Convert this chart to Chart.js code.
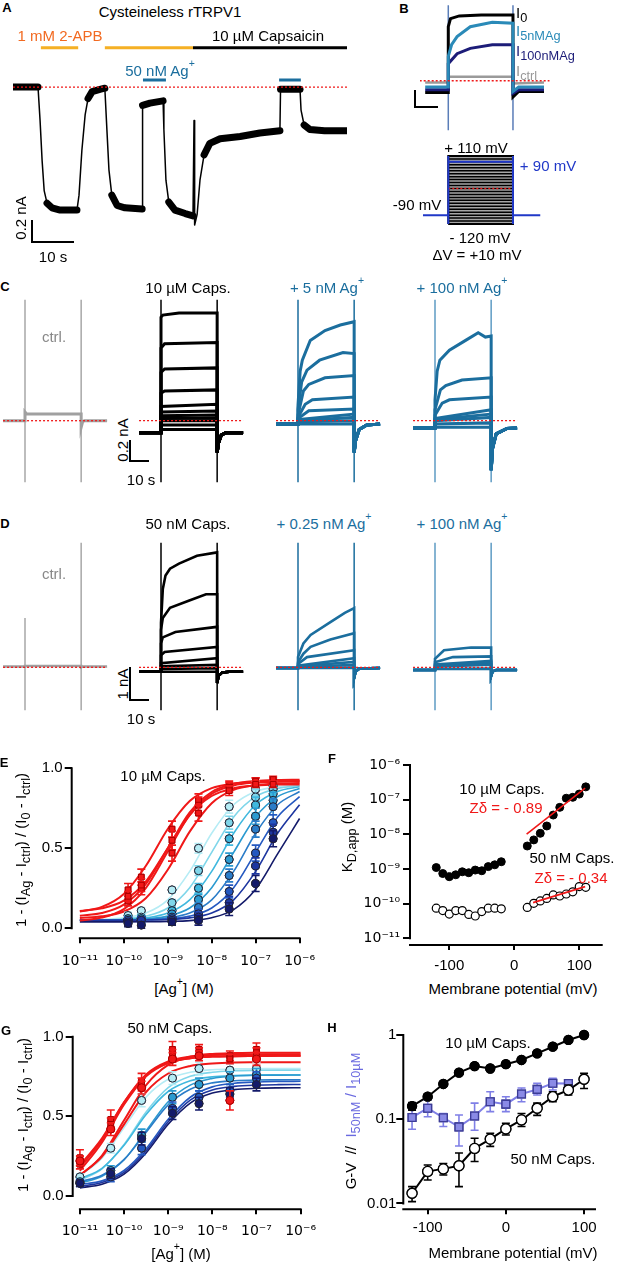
<!DOCTYPE html>
<html><head><meta charset="utf-8">
<script src="https://cdn.jsdelivr.net/npm/chart.js@4.4.1/dist/chart.umd.min.js"></script>
<style>
body{margin:0;background:#fff;}
#fig{position:relative;width:617px;height:1264px;overflow:hidden;font-family:"Liberation Sans",Arial,sans-serif;color:#000;}
canvas{position:absolute;}
.t{position:absolute;white-space:nowrap;transform:translate(-50%,-50%);font-size:15px;line-height:1;}
.tl{transform:translate(0,-50%);}
.lab{font-weight:bold;font-size:13px;}
.rot{transform:translate(-50%,-50%) rotate(-90deg);}
.sb{position:absolute;border-left:2px solid #000;border-bottom:2px solid #000;}
sub{font-size:0.85em;vertical-align:-0.35em;line-height:0;}
sup{font-size:0.7em;vertical-align:0.85em;line-height:0;}
</style></head><body><div id="fig"></div>
<script>
// ---------- A: whole-cell current, time (s) vs current (nA) ----------
const aTrace = [[0,0],[6.1,0],[6.6,-0.29],[7.1,-0.64],[7.6,-0.9],[8.3,-1.01],[9.5,-1.05],[11.5,-1.07],[15.6,-1.07],
  [16.1,-0.94],[16.8,-0.55],[17.6,-0.24],[18.3,-0.1],[19.3,-0.04],[21.2,-0.02],[22.4,-0.01],[22.9,-0.37],[23.4,-0.72],
  [24.1,-0.94],[25.4,-1.03],[27.3,-1.05],[31.5,-1.06],[31.6,-0.16],[33.4,-0.14],[36.6,-0.12],[36.8,-0.37],[37.3,-0.81],
  [38.0,-1.0],[39.5,-1.07],[42.0,-1.1],[43.9,-1.12],[44.15,-0.29],[44.3,-1.2],[44.9,-1.11],[45.6,-0.81],[46.6,-0.59],
  [48.0,-0.49],[50.5,-0.45],[55.4,-0.43],[60.2,-0.40],[65.1,-0.38],[65.25,-0.02],[70.0,-0.02],[70.25,-0.2],[71.0,-0.33],
  [72.4,-0.37],[76,-0.38],[81.2,-0.38]];
const aApb = [[6.8,15.9],[22.4,43.9]];
const aCaps = [[43.9,81.7]];
const aAg = [[31.7,37.3],[64.9,70.2]];

// ---------- B: example currents (s, nA) and voltage protocol (mV) ----------
const bI0 = [[-10.5,-0.13],[0,-0.13],[0,0.6],[1,0.69],[5,0.72],[15,0.73],[29.4,0.73],[29.4,-0.18],[32,-0.12],[43.5,-0.12]];
const bI5 = [[-10.5,-0.07],[0,-0.07],[0,0.27],[1.5,0.4],[4,0.49],[10,0.6],[20,0.65],[29.4,0.64],[29.4,-0.12],[32,-0.07],[43.5,-0.07]];
const bI100 = [[-10.5,-0.1],[0,-0.1],[0,0.19],[4,0.3],[10,0.36],[20,0.40],[29.4,0.40],[29.4,-0.14],[32,-0.1],[43.5,-0.1]];
const bIctrl = [[-10.5,-0.02],[0,-0.02],[0,0.044],[29.4,0.044],[29.4,-0.03],[43.5,-0.02]];
const stepMV = [-120,-110,-100,-90,-80,-70,-60,-50,-40,-30,-20,-10,0,10,20,30,40,50,60,70,80,90,100,110];
const holdMV = -90, shownMV = 90;

// ---------- C: 10 uM capsaicin family (step-phase points, s / nA) ----------
const cCtrl = {hold: 0, steps: [[[0,0.08],[1,0.06],[31.2,0.06]]], tail: [[31.2,-0.06],[32,-0.01],[33,0]]};
const cCaps = {hold: -0.11, tail: [[31.2,-0.29],[32,-0.2],[33.5,-0.13],[36,-0.11]], steps: [
  [[0,0.94],[1,0.96],[10,0.98],[31.2,0.98]], [[0,0.66],[2,0.70],[31.2,0.71]], [[0,0.44],[2,0.47],[31.2,0.48]],
  [[0,0.25],[2,0.27],[31.2,0.28]], [[0,0.13],[31.2,0.15]], [[0,0.08],[31.2,0.088]], [[0,0.045],[31.2,0.052]],
  [[0,0.02],[31.2,0.025]], [[0,0],[31.2,0]], [[0,-0.04],[31.2,-0.04]], [[0,-0.08],[31.2,-0.08]]]};
const cAg5 = {hold: -0.03, tail: [[31.2,-0.29],[32,-0.18],[34,-0.08],[38,-0.04]], steps: [
  [[0,0.14],[1.2,0.45],[2.4,0.55],[6.8,0.73],[15,0.82],[23.5,0.87],[31.2,0.90]],
  [[0,0.1],[2,0.35],[5,0.46],[12,0.55],[25,0.62],[31.2,0.61]],
  [[0,0.05],[3,0.27],[6,0.33],[15,0.39],[31.2,0.41]], [[0,0.03],[4,0.15],[8,0.19],[31.2,0.215]],
  [[0,0.02],[6,0.09],[31.2,0.106]], [[0,0.01],[31.2,0.06]], [[0,0],[31.2,0.03]], [[0,-0.01],[31.2,0]], [[0,-0.03],[31.2,-0.03]]]};
const cAg100 = {hold: -0.066, tail: [[31.2,-0.45],[32,-0.25],[34,-0.12],[40,-0.07]], steps: [
  [[0,0.19],[1.2,0.45],[2.7,0.55],[8,0.64],[17,0.73],[24,0.80],[28,0.76],[31.2,0.77]],
  [[0,0.1],[3,0.28],[6,0.32],[15,0.37],[31.2,0.39]], [[0,0.05],[4,0.16],[8,0.19],[31.2,0.215]],
  [[0,0.02],[31.2,0.10]], [[0,0.01],[31.2,0.06]], [[0,0],[31.2,0.03]], [[0,-0.03],[31.2,-0.02]], [[0,-0.06],[31.2,-0.06]]]};

// ---------- D: 50 nM capsaicin family ----------
const dCtrl = {hold: 0.02, steps: [[[0,0.04],[31.2,0.04]]], tail: [[31.2,0],[32,0.02]]};
const dCaps = {hold: -0.13, tail: [[31.2,-0.46],[32,-0.25],[34,-0.15],[38,-0.13]], steps: [
  [[0,1.3],[1,2.3],[2.5,2.7],[5,2.9],[10,3.05],[20,3.28],[31.2,3.38]],
  [[0,1.1],[1,1.45],[5,1.75],[15,1.95],[25,2.15],[31.2,2.15]], [[0,0.7],[1,0.88],[8,1.04],[31.2,1.19]],
  [[0,0.35],[2,0.45],[31.2,0.6]], [[0,0.12],[31.2,0.27]], [[0,0.03],[31.2,0.07]], [[0,-0.05],[31.2,-0.03]], [[0,-0.13],[31.2,-0.13]]]};
const dAg025 = {hold: -0.02, tail: [[31.2,-0.3],[32,-0.12],[34,-0.04]], steps: [
  [[0,0.3],[3,0.7],[7,0.95],[18,1.33],[26,1.6],[31.2,1.74]], [[0,0.15],[3,0.4],[7,0.6],[18,0.82],[31.2,1.0]],
  [[0,0.1],[5,0.3],[31.2,0.5]], [[0,0.05],[31.2,0.27]], [[0,0.03],[31.2,0.16]], [[0,0.01],[31.2,0.07]], [[0,-0.02],[31.2,-0.01]]]};
const dAg100 = {hold: -0.08, tail: [[31.2,-0.25],[32,-0.12],[34,-0.08]], steps: [
  [[0,0.25],[5,0.5],[20,0.58],[31.2,0.58]], [[0,0.15],[10,0.3],[31.2,0.32]], [[0,0.08],[31.2,0.19]],
  [[0,0.05],[31.2,0.14]], [[0,0.02],[31.2,0.08]], [[0,-0.05],[31.2,-0.04]]]};

// ---------- E / G: dose-response (fits sampled on a log grid, points at tested [Ag+]) ----------
const fitGrid = [1e-11,3.16e-11,1e-10,3.16e-10,1e-9,3.16e-9,1e-8,3.16e-8,1e-7,3.16e-7,1e-6];
const eRedFits = [
  [.105,.134,.215,.389,.621,.795,.876,.905,.915,.918,.919],
  [.079,.096,.148,.276,.50,.724,.852,.903,.921,.927,.929],
  [.108,.125,.173,.292,.50,.708,.827,.875,.892,.898,.899],
  [.065,.075,.105,.188,.366,.604,.782,.865,.895,.905,.908],
  [.049,.067,.120,.251,.48,.709,.840,.893,.911,.917,.919]];
const eBlueFits = [
  [.052,.055,.065,.095,.178,.356,.594,.772,.855,.885,.895],
  [.051,.053,.058,.076,.127,.254,.475,.696,.823,.874,.892],
  [.051,.052,.055,.065,.095,.178,.356,.594,.772,.855,.885],
  [.05,.051,.053,.058,.076,.127,.254,.475,.696,.823,.874],
  [.05,.051,.052,.055,.065,.095,.178,.356,.594,.772,.855],
  [.05,.05,.051,.053,.058,.076,.127,.254,.475,.696,.823],
  [.05,.05,.05,.052,.055,.065,.095,.178,.356,.594,.772],
  [.04,.04,.04,.041,.043,.048,.066,.117,.244,.465,.686]];
const eConc = [1.25e-10,2.5e-10,1.25e-9,5e-9,2.5e-8,1e-7,2.5e-7];
const eRedPts = [[.24,.32,.62,.80,.89,.92,.92],[.17,.25,.55,.77,.88,.92,.93],[.20,.27,.47,.72,.86,.90,.90]];
const eRedErr = [[.04,.05,.05,.04,.03,.02,.02],[.03,.04,.06,.05,.03,.02,.02],[.03,.04,.05,.05,.03,.02,.02]];
const eBluePts = [
  [.08,.11,.24,.50,.76,.87,.89],[.06,.07,.16,.36,.66,.82,.87],[.06,.06,.11,.25,.56,.77,.84],[.05,.06,.09,.18,.43,.70,.80],
  [.05,.05,.07,.13,.33,.62,.76],[.05,.05,.06,.09,.23,.47,.66],[.04,.05,.05,.07,.16,.39,.60],[.03,.02,.04,.05,.12,.28,.56]];
const eBlueErr = [.02,.02,.02,.03,.04,.05,.05];

const gRedFits = [
  [.177,.352,.588,.763,.845,.875,.885,.888,.889,.89,.89],
  [.192,.362,.588,.758,.837,.865,.875,.878,.879,.88,.88],
  [.127,.254,.475,.696,.823,.874,.892,.897,.899,.90,.90],
  [.131,.247,.45,.653,.769,.816,.832,.838,.839,.84,.84],
  [.158,.336,.574,.752,.835,.865,.875,.878,.879,.88,.88]];
const gBlueFits = [
  [.127,.238,.43,.622,.733,.777,.793,.798,.799,.80,.80],
  [.099,.170,.323,.527,.680,.751,.777,.786,.789,.79,.79],
  [.107,.174,.318,.512,.656,.723,.748,.756,.759,.76,.76],
  [.081,.124,.228,.41,.592,.696,.738,.753,.758,.759,.76],
  [.09,.13,.228,.40,.572,.67,.71,.723,.728,.729,.73],
  [.072,.095,.16,.298,.482,.62,.685,.708,.716,.719,.72],
  [.061,.085,.148,.284,.466,.602,.666,.688,.696,.699,.70],
  [.051,.074,.137,.27,.45,.583,.646,.668,.676,.679,.68]];
const gConc = [1e-11,5e-11,2.5e-10,1.25e-9,5e-9,2.5e-8,1e-7];
const gRedPts = [[.24,.48,.72,.92,.92,.88,.92],[.20,.45,.70,.88,.90,.86,.90],[.22,.42,.68,.86,.88,.60,.86]];
const gRedErr = [[.05,.06,.05,.05,.03,.03,.04],[.03,.04,.04,.04,.03,.03,.03],[.03,.04,.04,.04,.03,.06,.04]];
const gBluePts = [[.12,.30,.60,.74,.80,.79,.80],[.09,.16,.38,.62,.70,.74,.76],[.08,.12,.30,.55,.62,.66,.74],[.08,.14,.36,.52,.58,.64,.70]];
const gBlueErr = [.02,.03,.04,.04,.04,.04,.04];
const blues = ['#b5ecf5','#7fd6ea','#40b8de','#2a9ad0','#2a7cc8','#2458c0','#1d36a0','#131a6a'];

// ---------- F: apparent KD vs voltage ----------
const fVneg = [-120,-110,-100,-90,-80,-70,-60,-50,-40,-30,-20];
const fVpos = [20,30,40,50,60,70,80,90,100,110];
const kd10neg = [1.1e-9,7.4e-10,6.0e-10,6.8e-10,8.3e-10,7.8e-10,9.3e-10,8.9e-10,1.17e-9,1.32e-9,1.62e-9];
const kd10pos = [4.6e-9,6.9e-9,1.07e-8,1.74e-8,3.6e-8,6.0e-8,1.1e-7,1.17e-7,1.45e-7,2.34e-7];
const kd50neg = [7.4e-11,6.3e-11,5.0e-11,6.3e-11,6.3e-11,4.9e-11,4.4e-11,5.9e-11,7.4e-11,7.4e-11,7.1e-11];
const kd50pos = [7.8e-11,1.02e-10,1.2e-10,1.41e-10,1.78e-10,1.66e-10,1.9e-10,2.2e-10,3.1e-10,2.95e-10];
const fit10 = [[19,1.02e-8],[109,2.14e-7]];
const fit50 = [[29,1.07e-10],[109,3.1e-10]];

// ---------- H: G-V and current ratio ----------
const hV = [-120,-100,-80,-60,-40,-20,0,20,40,60,80,100];
const h10 = [0.143,0.185,0.262,0.357,0.428,0.40,0.45,0.505,0.605,0.726,0.873,1.0];
const h10Lo = [0.128,0.17,0.25,0.345,0.415,0.39,0.44,0.49,0.59,0.71,0.86,0.98];
const h10Hi = [0.158,0.20,0.275,0.37,0.44,0.41,0.46,0.52,0.62,0.74,0.89,1.02];
const h50 = [0.0132,0.024,0.0257,0.028,0.045,0.058,0.0766,0.098,0.135,0.185,0.222,0.298];
const h50Lo = [0.0105,0.019,0.0217,0.0158,0.0315,0.0475,0.065,0.082,0.111,0.161,0.194,0.232];
const h50Hi = [0.0158,0.0286,0.0298,0.0396,0.0593,0.068,0.0893,0.117,0.155,0.212,0.255,0.35];
const hRatioV = [-120,-100,-80,-60,-40,-20,0,20,40,60,80];
const hRatio = [0.105,0.135,0.104,0.081,0.109,0.161,0.151,0.199,0.226,0.267,0.265];
const hRatioLo = [0.076,0.107,0.082,0.048,0.074,0.123,0.123,0.161,0.194,0.222,0.24];
const hRatioHi = [0.155,0.169,0.117,0.112,0.155,0.212,0.185,0.235,0.267,0.306,0.29];

// =====================================================================
Chart.defaults.font.family = "'Liberation Sans', Arial, sans-serif";
Chart.defaults.color = '#000';
const fig = document.getElementById('fig');
const RED = '#f01818', TEAL = '#1b6e9e';

function addCanvas(l, t, w, h) {
  const c = document.createElement('canvas');
  c.width = w; c.height = h; c.style.left = l + 'px'; c.style.top = t + 'px';
  fig.appendChild(c);
  return c;
}
function txt(x, y, html, cls, css) {
  const d = document.createElement('div');
  d.className = 't ' + (cls || '');
  d.style.left = x + 'px'; d.style.top = y + 'px';
  if (css) d.style.cssText += css;
  d.innerHTML = html;
  fig.appendChild(d);
}
function scaleBar(x, y, w, h) {
  const d = document.createElement('div');
  d.className = 'sb';
  d.style.cssText = `left:${x - 1}px;top:${y}px;width:${w}px;height:${h - 2}px;`;
  fig.appendChild(d);
}
// first dataset in a list is painted first (bottom), the last one on top
const stack = ds => ds.map((d, i) => Object.assign(d, {order: ds.length - i}));
const xy = arr => arr.map(p => ({x: p[0], y: p[1]}));
function line(pts, color, width, extra) {
  return Object.assign({data: xy(pts), showLine: true, pointRadius: 0, borderColor: color,
    borderWidth: width, clip: false, spanGaps: false}, extra || {});
}
const bars = (iv, lvl) => iv.flatMap(([a, b]) => [[a, lvl], [b, lvl], [b, null]]);
function traceChart(box, xr, yr, datasets) {
  return new Chart(addCanvas(...box), {
    type: 'scatter', data: {datasets: stack(datasets)},
    options: {responsive: false, animation: false, events: [], layout: {padding: 0},
      plugins: {legend: {display: false}, tooltip: {enabled: false}},
      scales: {x: {type: 'linear', display: false, min: xr[0], max: xr[1]},
               y: {type: 'linear', display: false, min: yr[0], max: yr[1]}}}
  });
}
// thin where the trace is steep, thick (noise band) where it is flat
const bandWidth = (thin, thick) => ({borderWidth: ctx => {
  const dx = Math.abs(ctx.p1.x - ctx.p0.x), dy = Math.abs(ctx.p1.y - ctx.p0.y);
  return dy > 2.5 * dx ? thin : thick; }});

// ---------- panel A ----------
traceChart([13, 40, 334, 210], [0, 81.46], [-1.417, 0.409], [
  line(aTrace, '#000', 2, {segment: bandWidth(1.5, 7), borderCapStyle: 'round', borderJoinStyle: 'round'}),
  line([[0, 0], [81.5, 0]], RED, 1.3, {borderDash: [2, 2]}),
  line(bars(aApb, 0.342), '#f5b025', 3),
  line(bars(aCaps, 0.342), '#000', 3),
  line(bars(aAg, 0.061), TEAL, 3)
]);

// ---------- panel B ----------
const bX = [-12.86, 46.23];
traceChart([420, 0, 130, 135], bX, [-0.603, 0.897], [
  line([[0, 0.84], [0, -0.55], [0, null], [29.4, 0.84], [29.4, -0.55]], '#5a7db8', 1.5),
  line(bIctrl, '#9a9a9a', 2.5),
  line(bI0, '#000', 3),
  line(bI100, '#1c1c78', 3),
  line(bI5, '#2a8ab8', 3),
  line([[-13, 0], [46, 0]], RED, 1.3, {borderDash: [2, 2]})
]);
const vTop = stepMV[stepMV.length - 1], vBot = stepMV[0];
const stripes = stepMV.flatMap(v => [[0, v], [29.4, v], [29.4, null]]);
traceChart([420, 150, 130, 80], bX, [-140.2, 130.07], [
  line([[0, vTop], [29.4, vTop]], '#000', 0, {fill: {value: vBot}, backgroundColor: '#a6a6a6'}),
  line(stripes, '#000', 1.5),
  line([[0, vBot], [29.4, vBot], [29.4, vTop], [0, vTop], [0, vBot]], '#000', 2),
  line([[0, 0], [29.4, 0]], RED, 1.3, {borderDash: [2, 2]}),
  line([[-11.5, holdMV], [0, holdMV], [0, null], [0, vBot], [0, vTop], [0, null],
        [0, shownMV], [29.4, shownMV], [29.4, null], [29.4, vTop], [29.4, vBot], [29.4, null],
        [29.4, holdMV], [41.8, holdMV]], '#2038c8', 2)
]);

// ---------- panels C, D ----------
const T_PRE = -12.2, T_STEP = 31.2, T_END = 45.6;
const famX = [-25 / 1.8, 85 / 1.8];
function family(p, color, width) {
  return p.steps.map(s => line([[T_PRE, p.hold], [0, p.hold], ...s, ...p.tail, [T_END, p.hold]], color, width));
}
function vlines(top, bot, color, top0) {
  return line([[0, top0 === undefined ? top : top0], [0, bot], [0, null], [T_STEP, top], [T_STEP, bot]], color, 1.5);
}
const baseRed = () => line([[T_PRE, 0], [T_END, 0]], RED, 1.3, {borderDash: [2, 2]});
const colLeft = [25, 160.7, 297.7, 435];
const cSets = [[cCtrl, '#a0a0a0', '#a8a8a8'], [cCaps, '#000', '#000'], [cAg5, TEAL, TEAL], [cAg100, TEAL, '#5f9cc4']];
cSets.forEach(([p, col, vcol], i) => {
  traceChart([colLeft[i] - 25, 295, 110, 195], famX, [-0.630, 1.1427],
    [vlines(1.10, -0.56, vcol), ...family(p, col, 3), baseRed()]);
});
const dSets = [[dCtrl, '#a0a0a0', '#a8a8a8'], [dCaps, '#000', '#000'], [dAg025, TEAL, TEAL], [dAg100, TEAL, '#5f9cc4']];
dSets.forEach(([p, col, vcol], i) => {
  traceChart([colLeft[i] - 25, 535, 110, 180], famX, [-1.403, 3.891],
    [vlines(3.66, -1.26, vcol, i === 0 ? 1.45 : undefined), ...family(p, col, i === 0 ? 2.5 : 2.6), baseRed()]);
});

// ---------- axis charts ----------
const supMap = {'-': '\u207B', '0': '\u2070', '1': '\u00B9', '2': '\u00B2', '3': '\u00B3', '4': '\u2074',
  '5': '\u2075', '6': '\u2076', '7': '\u2077', '8': '\u2078', '9': '\u2079'};
const pow10 = v => '10' + String(Math.round(Math.log10(v))).split('').map(c => supMap[c]).join('');
const powFont = {family: "'DejaVu Sans', sans-serif", size: 14};
function mkScale(axis, type, min, max, vals, fmt, tickLen, pad, size, font) {
  return {type, min, max, position: axis === 'x' ? 'bottom' : 'left',
    afterFit: s => { if (axis === 'x') s.height = size; else s.width = size; },
    afterBuildTicks: s => { s.ticks = vals.map(v => ({value: v})); },
    border: {display: false},
    grid: {drawOnChartArea: false, drawTicks: true, tickLength: tickLen, lineWidth: 2, color: '#000'},
    ticks: {autoSkip: false, maxRotation: 0, minRotation: 0, padding: pad, font: font || {size: 15}, color: '#000', callback: fmt}};
}
function axisLines(xr, yr) {
  return {id: 'axisLines', afterDraw(chart) {
    const {ctx, chartArea: a, scales: {x, y}} = chart;
    ctx.save(); ctx.strokeStyle = '#000'; ctx.lineWidth = 2; ctx.beginPath();
    ctx.moveTo(a.left, y.getPixelForValue(yr[0]) + 1); ctx.lineTo(a.left, y.getPixelForValue(yr[1]) - 1);
    ctx.moveTo(x.getPixelForValue(xr[0]) - 1, a.bottom); ctx.lineTo(x.getPixelForValue(xr[1]) + 1, a.bottom);
    ctx.stroke(); ctx.restore();
  }};
}
const errorBars = {id: 'errorBars', afterDatasetsDraw(chart) {
  const ctx = chart.ctx, ys = chart.scales.y;
  chart.data.datasets.forEach((ds, i) => {
    if (!ds.errLo) return;
    const meta = chart.getDatasetMeta(i);
    ctx.save(); ctx.strokeStyle = ds.errColor; ctx.lineWidth = 1.6; ctx.beginPath();
    meta.data.forEach((pt, j) => {
      const lo = ys.getPixelForValue(ds.errLo[j]), hi = ys.getPixelForValue(ds.errHi[j]);
      ctx.moveTo(pt.x, lo); ctx.lineTo(pt.x, hi);
      ctx.moveTo(pt.x - 4, lo); ctx.lineTo(pt.x + 4, lo);
      ctx.moveTo(pt.x - 4, hi); ctx.lineTo(pt.x + 4, hi);
    });
    ctx.stroke(); ctx.restore();
    meta.data.forEach(pt => pt.draw(ctx, chart.chartArea));
  });
}};
function axisChart(cv, area, yW, xH, datasets, xs, ys, xr, yr) {
  const pad = {left: area[0] - cv[0] - yW, top: area[1] - cv[1], right: cv[0] + cv[2] - area[2],
               bottom: cv[1] + cv[3] - area[3] - xH};
  return new Chart(addCanvas(...cv), {
    type: 'scatter', data: {datasets: stack(datasets)},
    options: {responsive: false, animation: false, events: [], layout: {padding: pad},
      plugins: {legend: {display: false}, tooltip: {enabled: false}},
      scales: {x: xs, y: ys}},
    plugins: [axisLines(xr, yr), errorBars]
  });
}
const curve = (xs, ys, color, w) => ({data: xs.map((x, i) => ({x, y: ys[i]})), showLine: true, pointRadius: 0,
  borderColor: color, borderWidth: w, cubicInterpolationMode: 'monotone', clip: false});
function pts(xs, ys, err, fill, stroke, style, r, errColor) {
  return {data: xs.map((x, i) => ({x, y: ys[i]})), showLine: false, pointRadius: r, pointStyle: style,
    backgroundColor: fill, borderColor: stroke, borderWidth: 1, clip: false,
    errLo: ys.map((v, i) => v - (Array.isArray(err) ? err[i] : err)),
    errHi: ys.map((v, i) => v + (Array.isArray(err) ? err[i] : err)), errColor: errColor || stroke};
}
const decades = [1e-11, 1e-10, 1e-9, 1e-8, 1e-7, 1e-6];
const frac = v => v.toFixed(1);

// E
axisChart([0, 752, 325, 222], [71.7, 768.3, 302.7, 938.3], 60, 30, [
  ...eBlueFits.map((f, i) => curve(fitGrid, f, blues[i], 1.6)),
  ...eRedFits.map(f => curve(fitGrid, f, RED, 2)),
  ...eBluePts.map((p, i) => pts(eConc, p, eBlueErr, blues[i], '#223', 'circle', 4, blues[i])),
  ...eRedPts.map((p, i) => pts(eConc, p, eRedErr[i], RED, '#a00', 'rect', 4, RED))
], mkScale('x', 'logarithmic', 6.52e-12, 1e-6, decades, pow10, 5, 10, 30, powFont),
   mkScale('y', 'linear', -0.0625, 1.0, [0, 0.5, 1], frac, 7, 2, 60), [1e-11, 1e-6], [0, 1]);

// F
axisChart([330, 752, 292, 225], [410, 765, 601.7, 945], 75, 30, [
  {data: xy(fVneg.map((v, i) => [v, kd10neg[i]])), pointRadius: 4, backgroundColor: '#000', borderColor: '#000'},
  {data: xy(fVpos.map((v, i) => [v, kd10pos[i]])), pointRadius: 4, backgroundColor: '#000', borderColor: '#000'},
  {data: xy(fVneg.map((v, i) => [v, kd50neg[i]])), pointRadius: 4, backgroundColor: '#fff', borderColor: '#000', borderWidth: 1.2},
  {data: xy(fVpos.map((v, i) => [v, kd50pos[i]])), pointRadius: 4, backgroundColor: '#fff', borderColor: '#000', borderWidth: 1.2},
  line(fit10, RED, 1.6), line(fit50, RED, 1.6)
], mkScale('x', 'linear', -160.4, 134.5, [-100, 0, 100], v => String(v), 5, 7, 30),
   mkScale('y', 'logarithmic', 6.41e-12, 1e-6, [1e-11, 1e-10, 1e-9, 1e-8, 1e-7, 1e-6], pow10, 7, 3, 75, powFont),
   [-160.4, 134.5], [1e-11, 1e-6]);

// G
axisChart([0, 1024, 325, 230], [72.7, 1036.7, 302.7, 1209.3], 60, 30, [
  ...gBlueFits.map((f, i) => curve(fitGrid, f, blues[i], 1.6)),
  ...gRedFits.map(f => curve(fitGrid, f, RED, 2)),
  ...gBluePts.map((p, i) => pts(gConc, p, gBlueErr, blues[[0, 3, 5, 7][i]], '#223', 'circle', 4, blues[[0, 3, 5, 7][i]])),
  ...gRedPts.map((p, i) => pts(gConc, p, gRedErr[i], RED, '#a00', i === 2 ? 'circle' : 'rect', 4, RED))
], mkScale('x', 'logarithmic', 6.86e-12, 1e-6, decades, pow10, 5, 9, 30, powFont),
   mkScale('y', 'linear', -0.0835, 1.0, [0, 0.5, 1], frac, 7, 2, 60), [1e-11, 1e-6], [0, 1]);

// H
const hPts = (xs, ys, lo, hi, fill, stroke, style, r, lineCol, errCol) => ({
  data: xs.map((x, i) => ({x, y: ys[i]})), showLine: true, borderColor: lineCol, borderWidth: 2,
  pointRadius: r, pointStyle: style, pointBackgroundColor: fill, pointBorderColor: stroke, pointBorderWidth: 1.3,
  errLo: lo, errHi: hi, errColor: errCol, clip: false});
axisChart([330, 1022, 287, 230], [403.3, 1035, 595, 1209.3], 60, 30, [
  hPts(hRatioV, hRatio, hRatioLo, hRatioHi, '#8a8ae6', '#3c3c96', 'rect', 5.5, '#7f7fe6', '#7f7fe6'),
  hPts(hV, h50, h50Lo, h50Hi, '#fff', '#000', 'circle', 5, '#000', '#000'),
  hPts(hV, h10, h10Lo, h10Hi, '#000', '#000', 'circle', 4.5, '#000', '#000')
], mkScale('x', 'linear', -131.2, 114, [-100, 0, 100], v => String(v), 5, 5, 30),
   mkScale('y', 'logarithmic', 0.00851, 1.0, [0.01, 0.1, 1], v => String(v), 7, 0, 60),
   [-131.2, 114], [0.01, 1]);

// ---------- text ----------
const TL = 'tl';
txt(7, 7, 'A', 'lab'); txt(404, 8, 'B', 'lab'); txt(5, 286, 'C', 'lab'); txt(5, 523, 'D', 'lab');
txt(4, 762, 'E', 'lab'); txt(332, 758, 'F', 'lab'); txt(6, 1030, 'G', 'lab'); txt(332, 1027, 'H', 'lab');
// A
txt(170, 11, 'Cysteineless rTRPV1');
txt(60, 35, '1 mM 2-APB', '', 'color:#f26a21');
txt(268, 35, '10 µM Capsaicin');
txt(160, 70, '50 nM Ag<sup>+</sup>', '', 'color:' + TEAL);
txt(20, 218, '0.2 nA', 'rot'); txt(53, 256, '10 s'); scaleBar(32, 220, 41, 23);
// B
txt(516, 12, 'I<sub>0</sub>', TL);
txt(516, 30, 'I<sub>5nMAg</sub>', TL, 'color:#2a8ab8');
txt(516, 50, 'I<sub>100nMAg</sub>', TL, 'color:#1c1c78');
txt(516, 70, 'I<sub>ctrl</sub>', TL, 'color:#999');
scaleBar(415, 90, 22, 18);
txt(476, 147, '+ 110 mV'); txt(548, 165, '+ 90 mV', '', 'color:#2038c8'); txt(417, 204, '-90 mV');
txt(480, 237, '- 120 mV'); txt(477, 254, 'ΔV = +10 mV');
// C
txt(188, 287, '10 µM Caps.'); txt(327, 287, '+ 5 nM Ag<sup>+</sup>', '', 'color:' + TEAL);
txt(462, 287, '+ 100 nM Ag<sup>+</sup>', '', 'color:' + TEAL);
txt(54, 336, 'ctrl.', '', 'color:#888');
txt(122, 440, '0.2 nA', 'rot'); txt(141, 479, '10 s'); scaleBar(130, 440, 18, 22);
// D
txt(188, 523, '50 nM Caps.'); txt(324, 523, '+ 0.25 nM Ag<sup>+</sup>', '', 'color:' + TEAL);
txt(462, 523, '+ 100 nM Ag<sup>+</sup>', '', 'color:' + TEAL);
txt(54, 573, 'ctrl.', '', 'color:#888');
txt(122, 684, '1 nA', 'rot'); txt(141, 718, '10 s'); scaleBar(130, 667, 18, 34);
// E
txt(163, 775, '10 µM Caps.');
txt(20, 850, '1 - (I<sub>Ag</sub> - I<sub>ctrl</sub>) / (I<sub>0</sub> - I<sub>ctrl</sub>)', 'rot');
txt(184, 988, '[Ag<sup>+</sup>] (M)');
// F
txt(346, 837, 'K<sub>D,app</sub> (M)', 'rot');
txt(513, 988, 'Membrane potential (mV)');
txt(502, 788, '10 µM Caps.'); txt(506, 807, 'Zδ = - 0.89', '', 'color:' + RED);
txt(572, 857, '50 nM Caps.'); txt(571, 877, 'Zδ = - 0.34', '', 'color:' + RED);
// G
txt(170, 1027, '50 nM Caps.');
txt(22, 1115, '1 - (I<sub>Ag</sub> - I<sub>ctrl</sub>) / (I<sub>0</sub> - I<sub>ctrl</sub>)', 'rot');
txt(181, 1253, '[Ag<sup>+</sup>] (M)');
// H
txt(350, 1121, 'G-V &nbsp;// &nbsp;<span style="color:#6a6ae0">I<sub>50nM</sub> / I<sub>10µM</sub></span>', 'rot');
txt(488, 1042, '10 µM Caps.'); txt(553, 1158, '50 nM Caps.');
txt(513, 1252, 'Membrane potential (mV)');
</script></body></html>
